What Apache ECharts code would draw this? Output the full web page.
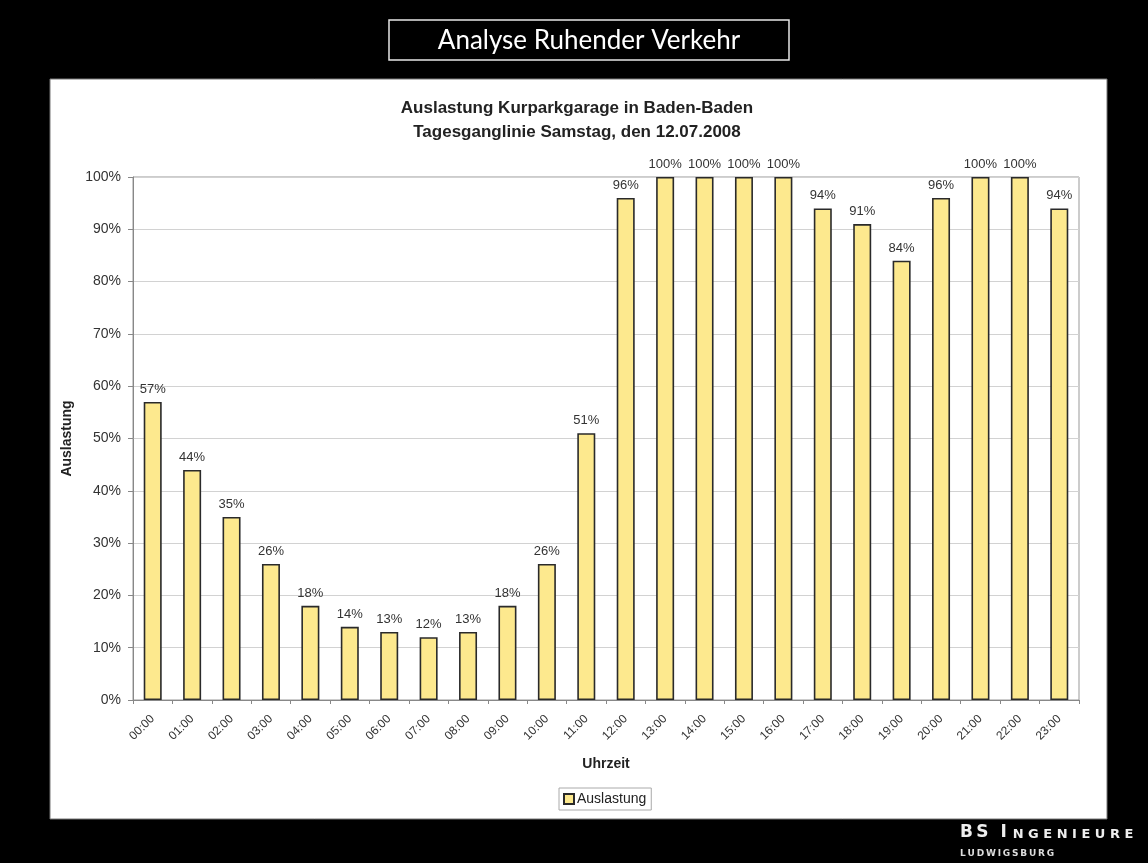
<!DOCTYPE html>
<html>
<head>
<meta charset="utf-8">
<title>Analyse Ruhender Verkehr</title>
<script src="https://cdn.jsdelivr.net/npm/echarts@6/dist/echarts.min.js"></script>
<style>
  html, body { margin: 0; padding: 0; background: #000; }
  #chart { width: 1148px; height: 863px; }
</style>
</head>
<body>
<div id="chart"></div>
<script>
// Hourly occupancy of the Kurparkgarage, Saturday 12.07.2008
const hours = ['00:00','01:00','02:00','03:00','04:00','05:00','06:00','07:00',
               '08:00','09:00','10:00','11:00','12:00','13:00','14:00','15:00',
               '16:00','17:00','18:00','19:00','20:00','21:00','22:00','23:00'];
const occupancy = [57, 44, 35, 26, 18, 14, 13, 12, 13, 18, 26, 51,
                   96, 100, 100, 100, 100, 94, 91, 84, 96, 100, 100, 94];
const yTicks = [0, 10, 20, 30, 40, 50, 60, 70, 80, 90, 100];

const chart = echarts.init(document.getElementById('chart'));

// spread letters apart for the company mark
const spaced = (s, gap) => s.split('').join(gap);

const option = {
  backgroundColor: '#000',
  animation: false,
  title: [
    {
      text: 'Auslastung Kurparkgarage in Baden-Baden\nTagesganglinie Samstag, den 12.07.2008',
      left: 572, top: 91, textAlign: 'center',
      textStyle: { fontFamily: 'Liberation Sans', fontWeight: 'bold', fontSize: 17, color: '#222', lineHeight: 24 }
    }
  ],
  graphic: [
    // white chart panel
    { type: 'rect', z: -10, shape: { x: 50, y: 79, width: 1057, height: 740 },
      style: { fill: '#fff', stroke: '#777', lineWidth: 1 } },
    // framed headline
    { type: 'rect', shape: { x: 389, y: 20, width: 400, height: 40 },
      style: { fill: '#000', stroke: '#e8e8e8', lineWidth: 1.5 } },
    { type: 'text', x: 589, y: 41,
      style: { text: 'Analyse Ruhender Verkehr', fill: '#fff', font: '26px Lato',
               textAlign: 'center', textVerticalAlign: 'middle' } },
    // company mark
    { type: 'text', x: 960, y: 841,
      style: {
        text: '{b|' + spaced('BS', '\u2009') + '  I }{s|' + spaced('NGENIEURE', ' ') + '}',
        fill: '#eee', textVerticalAlign: 'bottom',
        rich: {
          b: { fontFamily: 'DejaVu Sans', fontWeight: 'bold', fontSize: 17, fill: '#eee', verticalAlign: 'bottom' },
          s: { fontFamily: 'DejaVu Sans', fontWeight: 'bold', fontSize: 13, fill: '#eee', verticalAlign: 'bottom' }
        }
      } },
    { type: 'text', x: 960, y: 854,
      style: { text: spaced('LUDWIGSBURG', '\u2009'), fill: '#ddd', font: 'bold 9px "DejaVu Sans"',
               textVerticalAlign: 'middle' } }
  ],
  legend: {
    data: ['Auslastung'],
    left: 559, top: 788,
    backgroundColor: '#fff',
    borderColor: '#aaa', borderWidth: 1,
    padding: [4, 5, 4, 4],
    itemWidth: 10, itemHeight: 10, itemGap: 4,
    icon: 'rect',
    textStyle: { fontFamily: 'Liberation Sans', fontSize: 14, color: '#222', padding: [0, 0, 0, -2] }
  },
  grid: {
    left: 133, right: 69, top: 177, bottom: 163,
    show: true, borderColor: '#999', borderWidth: 1, backgroundColor: 'transparent'
  },
  xAxis: {
    type: 'category',
    data: hours,
    name: 'Uhrzeit',
    nameLocation: 'middle',
    nameGap: 57,
    nameTextStyle: { fontFamily: 'Liberation Sans', fontWeight: 'bold', fontSize: 14, color: '#222' },
    axisLine: { lineStyle: { color: '#888', width: 1 } },
    axisTick: { show: true, length: 4, lineStyle: { color: '#888' } },
    axisLabel: {
      rotate: 45, interval: 0, margin: 17,
      fontFamily: 'Liberation Sans', fontSize: 12, color: '#333'
    }
  },
  yAxis: {
    type: 'value',
    min: 0, max: 100, interval: 10,
    name: 'Auslastung',
    nameLocation: 'middle',
    nameGap: 54,
    nameRotate: 90,
    nameTextStyle: { fontFamily: 'Liberation Sans', fontWeight: 'bold', fontSize: 14, color: '#222' },
    axisLine: { show: true, lineStyle: { color: '#888', width: 1 } },
    axisTick: { show: true, length: 5, lineStyle: { color: '#888' } },
    axisLabel: {
      margin: 12,
      fontFamily: 'Liberation Sans', fontSize: 14, color: '#333',
      formatter: v => (yTicks.includes(v) ? v + '%' : '')
    },
    splitLine: { show: true, lineStyle: { color: '#d2d2d2', width: 1 } }
  },
  series: [{
    name: 'Auslastung',
    type: 'bar',
    data: occupancy,
    barWidth: 18,
    itemStyle: { color: '#fde98e', borderColor: '#2a2a2a', borderWidth: 1.6 },
    label: {
      show: true, position: 'top', distance: 6,
      formatter: p => p.value + '%',
      fontFamily: 'Liberation Sans', fontSize: 13, color: '#333'
    }
  }]
};

chart.setOption(option);
</script>
</body>
</html>
